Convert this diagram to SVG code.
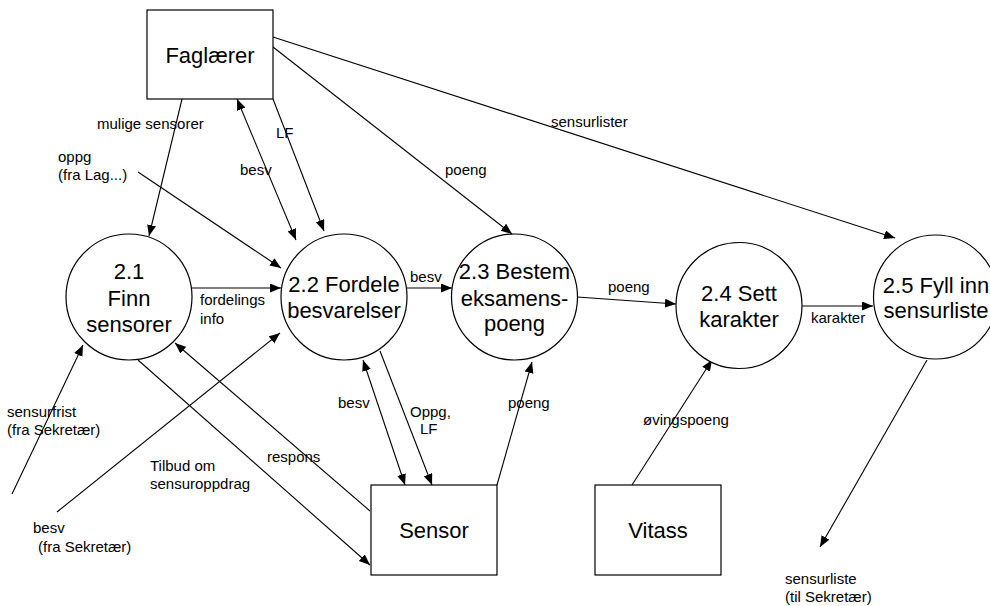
<svg xmlns="http://www.w3.org/2000/svg" width="990" height="606" viewBox="0 0 990 606">
<defs>
<marker id="ah" markerUnits="userSpaceOnUse" markerWidth="12" markerHeight="10" refX="11" refY="4.5" orient="auto-start-reverse">
<path d="M0,0 L11,4.5 L0,9 z" fill="#000"/>
</marker>
<style>
.box{fill:#fff;stroke:#000;stroke-width:1.2}
.proc{fill:#fff;stroke:#000;stroke-width:1.2}
.big{font-family:"Liberation Sans",Arial,sans-serif;font-size:22px;fill:#000;text-anchor:middle}
.lbl{font-family:"Liberation Sans",Arial,sans-serif;font-size:15px;fill:#000}
.ln{stroke:#000;stroke-width:1.1;fill:none}
.a{marker-end:url(#ah)}
.b{marker-start:url(#ah);marker-end:url(#ah)}
</style>
</defs>
<rect width="990" height="606" fill="#fff"/>
<g id="connectors">
<path class="ln a" d="M182,99 L149,236"/>
<path class="ln a" d="M138,172 L281,268"/>
<path class="ln b" d="M237,99 L296,240"/>
<path class="ln a" d="M273,99 L324,231"/>
<path class="ln a" d="M273,47 L512,234"/>
<path class="ln a" d="M273,37 L895,238"/>
<path class="ln a" d="M192,288 L281,288"/>
<path class="ln a" d="M12,494 L83,345"/>
<path class="ln a" d="M57,512 L280,333"/>
<path class="ln a" d="M138,360 L370,565"/>
<path class="ln a" d="M370,511 L175,343"/>
<path class="ln a" d="M407,288 L452,288"/>
<path class="ln a" d="M577,297 L676,304"/>
<path class="ln a" d="M802,306 L873,306"/>
<path class="ln b" d="M363,360 L405,485"/>
<path class="ln a" d="M380,351 L432,485"/>
<path class="ln a" d="M497,485 L532,362"/>
<path class="ln a" d="M632,485 L712,360"/>
<path class="ln a" d="M927,360 L820,547"/>
<text class="lbl" x="97" y="129">mulige sensorer</text>
<text class="lbl" x="58" y="162">oppg</text>
<text class="lbl" x="58" y="180">(fra Lag...)</text>
<text class="lbl" x="240" y="175">besv</text>
<text class="lbl" x="276" y="138">LF</text>
<text class="lbl" x="445" y="175">poeng</text>
<text class="lbl" x="551" y="127">sensurlister</text>
<text class="lbl" x="200" y="305">fordelings</text>
<text class="lbl" x="200" y="324">info</text>
<text class="lbl" x="7" y="417">sensurfrist</text>
<text class="lbl" x="7" y="435">(fra Sekretær)</text>
<text class="lbl" x="33" y="533">besv</text>
<text class="lbl" x="38" y="552">(fra Sekretær)</text>
<text class="lbl" x="150" y="471">Tilbud om</text>
<text class="lbl" x="150" y="489">sensuroppdrag</text>
<text class="lbl" x="267" y="462">respons</text>
<text class="lbl" x="410" y="282">besv</text>
<text class="lbl" x="608" y="292">poeng</text>
<text class="lbl" x="811" y="323">karakter</text>
<text class="lbl" x="338" y="408">besv</text>
<text class="lbl" x="410" y="417">Oppg,</text>
<text class="lbl" x="420" y="434">LF</text>
<text class="lbl" x="508" y="408">poeng</text>
<text class="lbl" x="643" y="425">øvingspoeng</text>
<text class="lbl" x="785" y="584">sensurliste</text>
<text class="lbl" x="785" y="602">(til Sekretær)</text>
</g>
<g id="faglaerer">
<rect class="box" x="147" y="10" width="126" height="89"/>
<text class="big" x="210" y="63">Faglærer</text>
</g>
<g id="p21">
<circle class="proc" cx="129" cy="297" r="63"/>
<text class="big" x="129" y="279">2.1</text>
<text class="big" x="129" y="306">Finn</text>
<text class="big" x="129" y="332">sensorer</text>
</g>
<g id="p22">
<circle class="proc" cx="344" cy="297" r="63"/>
<text class="big" x="344" y="292">2.2 Fordele</text>
<text class="big" x="344" y="318">besvarelser</text>
</g>
<g id="p23">
<circle class="proc" cx="514.5" cy="297" r="63"/>
<text class="big" x="514.5" y="279">2.3 Bestem</text>
<text class="big" x="514.5" y="306">eksamens-</text>
<text class="big" x="514.5" y="331">poeng</text>
</g>
<g id="p24">
<circle class="proc" cx="739" cy="305.5" r="63"/>
<text class="big" x="739" y="301">2.4 Sett</text>
<text class="big" x="739" y="327">karakter</text>
</g>
<g id="p25">
<circle class="proc" cx="935.5" cy="297" r="62"/>
<text class="big" x="936" y="293">2.5 Fyll inn</text>
<text class="big" x="936" y="318">sensurliste</text>
</g>
<g id="sensor">
<rect class="box" x="371" y="485" width="126" height="90"/>
<text class="big" x="434" y="538">Sensor</text>
</g>
<g id="vitass">
<rect class="box" x="595" y="485" width="126" height="90"/>
<text class="big" x="658" y="538">Vitass</text>
</g>
</svg>
